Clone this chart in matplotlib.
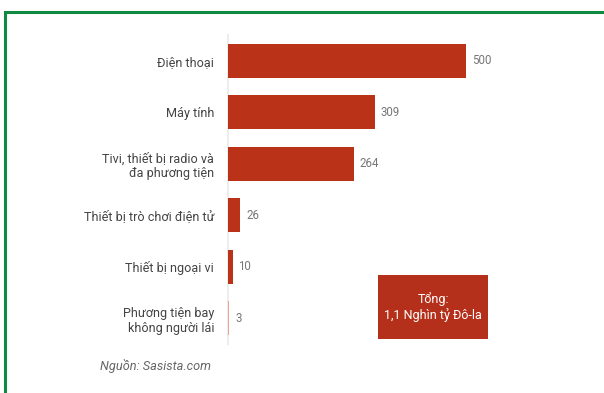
import matplotlib
matplotlib.use("Agg")
import matplotlib.pyplot as plt
from matplotlib.patches import Rectangle

categories = ["Điện thoại", "Máy tính", "Tivi, thiết bị radio và\nđa phương tiện",
              "Thiết bị trò chơi điện tử", "Thiết bị ngoại vi",
              "Phương tiện bay\nkhông người lái"]
values = [500, 309, 264, 26, 10, 3]
value_labels = ["500", "309", "264", "26", "10", "3"]
bar_colors = ["#BA3319", "#BA3319", "#BA3319", "#BA3319", "#BA3319", "#EBA595"]

plt.rcParams['font.family'] = ['Roboto', 'DejaVu Sans']

W, H = 604, 393
fig = plt.figure(figsize=(W / 100, H / 100), dpi=100)
fig.patch.set_facecolor("white")

# green frame
fig.add_artist(Rectangle((5 / W, -0.05), 1.2, 1 - 12 / H + 0.05, transform=fig.transFigure,
                         fill=False, edgecolor="#0F8A40", linewidth=2.2))

ax = fig.add_axes([228 / W, 1 - 344 / H, 300 / W, 309 / H])
y = list(range(len(categories)))
ax.barh(y, values, height=0.66, color=bar_colors, zorder=3)
ax.set_xlim(0, 630)
ax.set_ylim(5.5, -0.5)
for s in ["top", "right", "bottom"]:
    ax.spines[s].set_visible(False)
ax.spines["left"].set_color("#EDEDED")
ax.spines["left"].set_linewidth(1.5)
ax.spines["left"].set_zorder(1)
ax.set_xticks([])
ax.set_yticks(y)
ax.set_yticklabels(categories, fontsize=9.1, color="#444444", ha="right", multialignment="right")
ax.tick_params(axis="y", length=0, pad=10)
for yi, v, lab in zip(y, values, value_labels):
    ax.text(v + 12, yi, lab, va="center", ha="left", fontsize=8.3, color="#777777")

fig.text(211 / W, 1 - 366 / H, "Nguồn: Sasista.com", fontsize=9.2, style="italic",
         color="#666666", va="center", ha="right")

fig.add_artist(Rectangle((378 / W, 1 - 339 / H), 110 / W, 64 / H, transform=fig.transFigure,
                         facecolor="#B5301A", edgecolor="none"))
fig.text(433 / W, 1 - 307 / H, "Tổng:\n1,1 Nghìn tỷ Đô-la", fontsize=9, color="white",
         ha="center", va="center", multialignment="center", linespacing=1.25)

fig.savefig("out.png", dpi=100)
